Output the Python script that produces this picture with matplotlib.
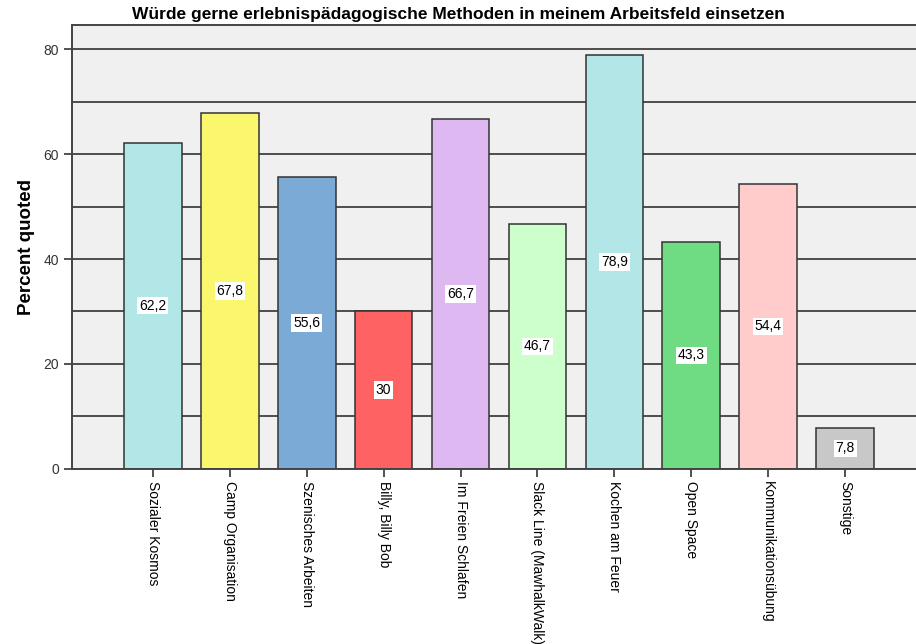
import matplotlib
matplotlib.use("Agg")
import matplotlib.pyplot as plt
import numpy as np

plt.rcParams['font.family'] = ['Liberation Sans', 'DejaVu Sans']

categories = [
    "Sozialer Kosmos", "Camp Organisation", "Szenisches Arbeiten",
    "Billy, Billy Bob", "Im Freien Schlafen", "Slack Line (MawhalkWalk)",
    "Kochen am Feuer", "Open Space", "Kommunikationsübung", "Sonstige",
]
values = [62.2, 67.8, 55.6, 30.0, 66.7, 46.7, 78.9, 43.3, 54.4, 7.8]
colors = [
    "#B3E6E6", "#FAF76F", "#7BAAD6", "#FF6262", "#DDB8F1",
    "#CCFFCC", "#B3E6E6", "#6FDC84", "#FFCBCB", "#C8C8C8",
]
yticks = [0, 20, 40, 60, 80]

fig = plt.figure(figsize=(9.16, 6.44), dpi=100)
ax = fig.add_axes([0.0786, 0.272, 0.9214, 0.689])
ax.set_facecolor("#F0F0F0")

x = np.arange(len(categories))
ax.set_axisbelow(True)
ax.yaxis.grid(True, color="#404040", linewidth=1.3)
for yv in np.arange(10, 85, 20):
    ax.axhline(yv, color="#404040", linewidth=1.3, zorder=0.5)

ax.bar(x, values, width=0.75, color=colors, edgecolor="#333333", linewidth=1.1, zorder=2)

def fmt(v):
    s = f"{v:.1f}"
    if s.endswith(".0"):
        s = s[:-2]
    return s.replace(".", ",")

for xi, v in zip(x, values):
    ax.text(xi, v / 2, fmt(v), ha="center", va="center", fontsize=10, zorder=3,
            bbox=dict(facecolor="white", edgecolor="none", pad=1.2))

ax.set_xlim(-1.05, 9.92)
ax.set_ylim(0, 84.6)
ax.set_yticks(yticks)
ax.set_yticklabels([str(t) for t in yticks], fontsize=10, color="#333333")
ax.set_xticks(x)
ax.set_xticklabels(categories, rotation=270, fontsize=10, va="top", ha="center")
ax.tick_params(axis="both", direction="out", length=6, width=1.2, color="#333333")
ax.tick_params(axis="x", pad=3)

for side in ["left", "bottom", "top"]:
    ax.spines[side].set_color("#444444")
    ax.spines[side].set_linewidth(1.4)
ax.spines["right"].set_visible(False)

ax.set_ylabel("Percent quoted", fontsize=13.5, fontweight="bold", labelpad=6)
fig.text(0.501, 0.977, "Würde gerne erlebnispädagogische Methoden in meinem Arbeitsfeld einsetzen",
         ha="center", va="center", fontsize=12.5, fontweight="bold")

fig.savefig("out.png", dpi=100)
